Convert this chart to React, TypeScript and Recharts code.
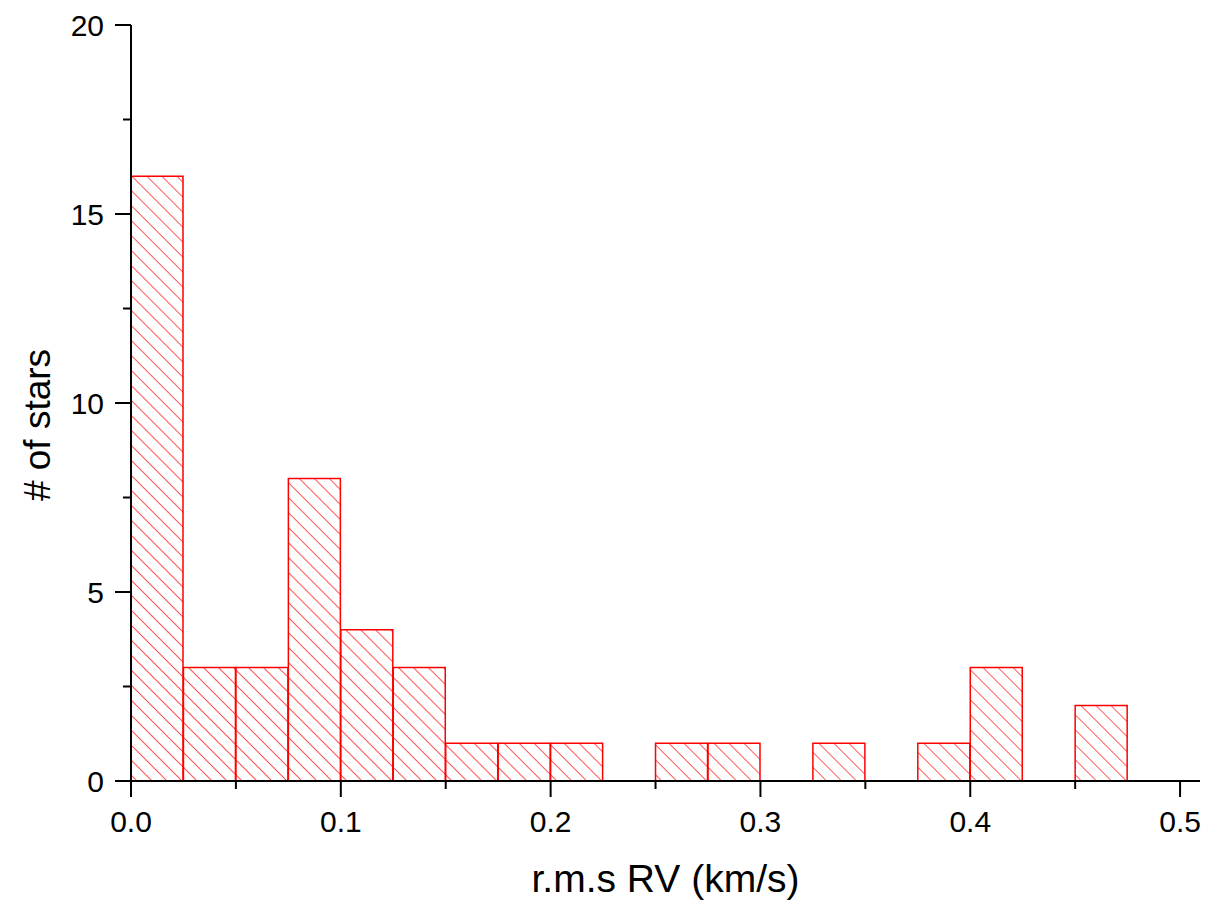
import React from 'react';
import { ComposedChart, Bar, XAxis, YAxis, Label } from 'recharts';

const binWidth = 0.025;
const binStarts = [0, 0.025, 0.05, 0.075, 0.1, 0.125, 0.15, 0.175, 0.2, 0.225, 0.25, 0.275, 0.3, 0.325, 0.35, 0.375, 0.4, 0.425, 0.45];
const starCounts = [16, 3, 3, 8, 4, 3, 1, 1, 1, 0, 1, 1, 0, 1, 0, 1, 3, 0, 2];
const xTicks = [0, 0.05, 0.1, 0.15, 0.2, 0.25, 0.3, 0.35, 0.4, 0.45, 0.5];
const yTicks = [0, 2.5, 5, 7.5, 10, 12.5, 15, 17.5, 20];
const xTitle = 'r.m.s RV (km/s)';
const yTitle = '# of stars';

const data = binStarts.map((s, i) => ({ x: s + binWidth / 2, count: starCounts[i] }));

const FONT = '"Liberation Sans", Arial, sans-serif';

const isMajor = (v: number, step: number) => Math.abs(v / step - Math.round(v / step)) < 1e-6;

const XTick = (props: any) => {
  const { x, y, payload } = props;
  const v = payload.value as number;
  const major = isMajor(v, 0.1);
  return (
    <g>
      <line x1={x} x2={x} y1={y} y2={y + (major ? 16 : 8)} stroke="#000" strokeWidth={2} />
      {major && (
        <text x={x} y={y + 51} textAnchor="middle" fontSize={30} fontFamily={FONT} fill="#000">
          {v.toFixed(1)}
        </text>
      )}
    </g>
  );
};

const YTick = (props: any) => {
  const { x, y, payload } = props;
  const v = payload.value as number;
  const major = isMajor(v, 5);
  return (
    <g>
      <line x1={x - (major ? 16 : 8)} x2={x} y1={y} y2={y} stroke="#000" strokeWidth={2} />
      {major && (
        <text x={x - 27} y={y + 10.5} textAnchor="end" fontSize={30} fontFamily={FONT} fill="#000">
          {String(v)}
        </text>
      )}
    </g>
  );
};

export default function App() {
  return (
    <div style={{ position: 'absolute', left: 0, top: 0, width: 1209, height: 906, background: '#fff' }}>
      <ComposedChart
        width={1209}
        height={906}
        data={data}
        margin={{ top: 25, right: 9, bottom: 0, left: 0 }}
        barCategoryGap={0}
        barGap={0}
      >
        <defs>
          <pattern id="hatch" patternUnits="userSpaceOnUse" width={10.6} height={10.6} patternTransform="rotate(-45)">
            <line x1={0} y1={0} x2={0} y2={10.6} stroke="#ff0000" strokeWidth={1.3} />
          </pattern>
        </defs>
        <XAxis
          dataKey="x"
          type="number"
          domain={[0, 0.5095]}
          ticks={xTicks}
          interval={0}
          height={125}
          tickSize={0}
          tickMargin={0}
          tickLine={false}
          axisLine={{ stroke: '#000', strokeWidth: 2 }}
          tick={<XTick />}
          allowDataOverflow
        >
          <Label
            content={(p: any) => {
              const vb = p.viewBox;
              return (
                <text x={vb.x + vb.width / 2} y={vb.y + 111} textAnchor="middle" fontSize={39} fontFamily={FONT} fill="#000">
                  {xTitle}
                </text>
              );
            }}
          />
        </XAxis>
        <YAxis
          type="number"
          domain={[0, 20]}
          ticks={yTicks}
          interval={0}
          width={131}
          tickSize={0}
          tickMargin={0}
          tickLine={false}
          axisLine={{ stroke: '#000', strokeWidth: 2 }}
          tick={<YTick />}
        >
          <Label
            content={(p: any) => {
              const vb = p.viewBox;
              const cx = 50;
              const cy = vb.y + vb.height / 2 + 22;
              return (
                <text x={cx} y={cy} transform={`rotate(-90 ${cx} ${cy})`} textAnchor="middle" fontSize={37} fontFamily={FONT} fill="#000">
                  {yTitle}
                </text>
              );
            }}
          />
        </YAxis>
        <Bar dataKey="count" fill="url(#hatch)" stroke="#ff0000" strokeWidth={1.5} isAnimationActive={false} />
      </ComposedChart>
    </div>
  );
}
